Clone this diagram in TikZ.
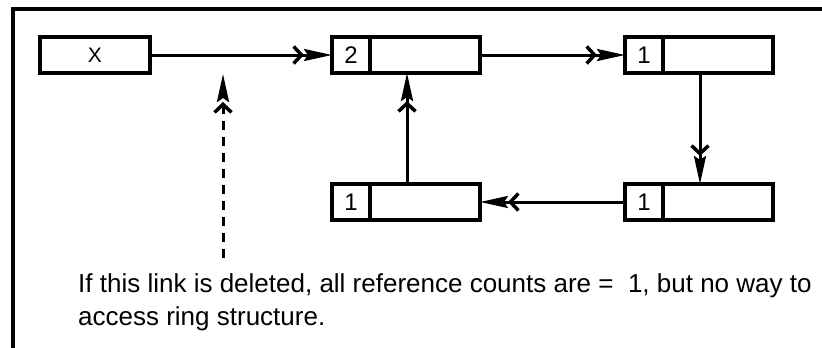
\documentclass[tikz,border=0pt]{standalone}
\usepackage{fontspec}
\setmainfont{Liberation Sans}
\usetikzlibrary{arrows.meta}
\begin{document}
\begin{tikzpicture}[x=1pt,y=-1pt,
  cell/.style={draw,line width=3.4pt,minimum height=36pt,inner sep=0pt,outer sep=0pt,font=\fontsize{24}{24}\selectfont},
  cnt/.style={cell,minimum width=38pt},
  ptr/.style={cell,minimum width=110pt},
  fletch/.tip={Straight Barb[length=8pt,width=17pt,line width=3.5pt] Stealth[length=28pt,width=12pt,inset=4pt]},
  arr/.style={line width=3pt,-fletch},
  lbl/.style={font=\fontsize{26}{33}\selectfont,align=left,anchor=base west,inner sep=0pt}]
\useasboundingbox (0,0) rectangle (822,348);
\draw[line width=3.4pt] (13,352) -- (13,9) -- (826,9);
% X box
\node[cell,minimum width=110pt,font=\fontsize{21}{21}\selectfont] (x) at (95,55) {X};
% box 2 (top middle)
\node[cnt] (c2) at (351,55) {2};
\node[ptr] (p2) at (425,55) {};
% box 3 (top right)
\node[cnt] (c3) at (644,55) {1};
\node[ptr] (p3) at (718,55) {};
% box 4 (bottom right)
\node[cnt] (c4) at (644,202) {1};
\node[ptr] (p4) at (718,202) {};
% box 5 (bottom middle)
\node[cnt] (c5) at (351,202) {1};
\node[ptr] (p5) at (425,202) {};
% connectors
\draw[arr] (x.east) -- (c2.west);
\draw[arr] (p2.east) -- (c3.west);
\draw[arr] ([xshift=-18pt]p3.south) -- ([xshift=-18pt]p4.north);
\draw[arr] (c4.west) -- (p5.east);
\draw[arr] ([xshift=-18pt]p5.north) -- ([xshift=-18pt]p2.south);
% dashed pointer
\coordinate (dlow) at (223,258);
\coordinate (dtop) at (223,74);
\draw[arr,dash pattern=on 9pt off 7pt] (dlow) -- (dtop);
\node[lbl] (note) at (78,325) {If this link is deleted, all reference counts are =\ \ 1, but no way to\\access ring structure.};
\end{tikzpicture}
\end{document}
